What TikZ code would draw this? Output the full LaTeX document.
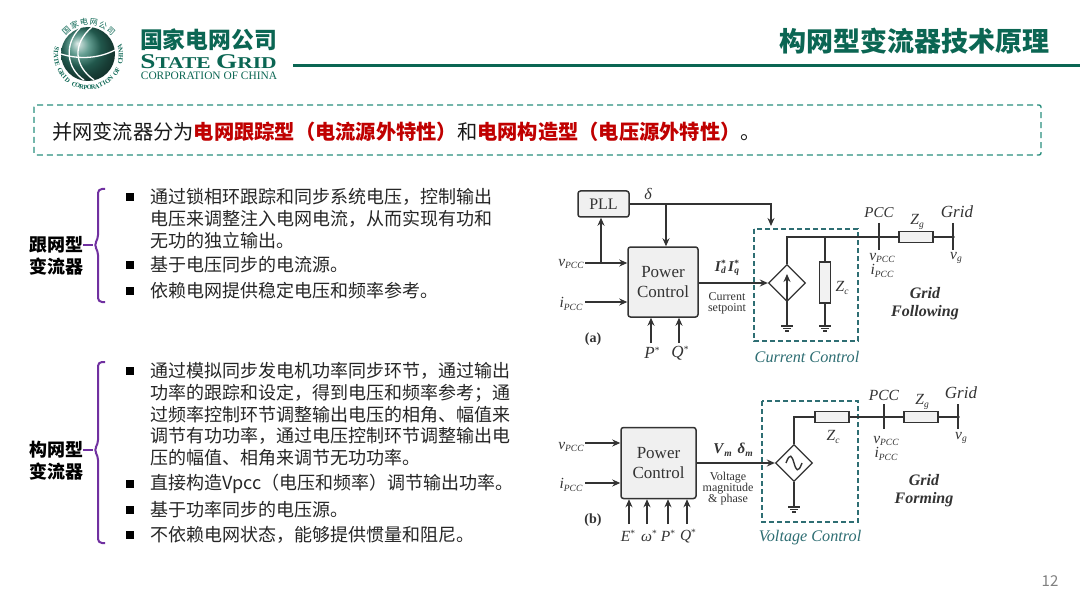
\documentclass[tikz,border=0pt]{standalone}
\usepackage{fontspec}
\usepackage{graphicx}
\setmainfont{Noto Sans CJK SC}
\newfontfamily\tms{Liberation Serif}
\usetikzlibrary{arrows.meta,shapes.geometric,calc}
\definecolor{sgteal}{HTML}{0B6653}
\definecolor{dashteal}{HTML}{2B8F7E}
\definecolor{ctlteal}{HTML}{2E6E73}
\definecolor{sgred}{HTML}{C00000}
\definecolor{brace}{HTML}{7030A0}
\definecolor{ink}{HTML}{333333}
\newcommand{\fs}[1]{\fontsize{#1}{#1}\selectfont}
\newcommand{\subt}[2]{\textit{#1}\raisebox{-2.5pt}{\fontsize{9.5}{9.5}\selectfont\textit{#2}}}
\newcommand{\stard}[1]{\textit{#1}\raisebox{5pt}{\fontsize{9.5}{9.5}\selectfont *}}
\newcommand{\subsup}[2]{\textit{#1}\rlap{\raisebox{5pt}{\fontsize{9.5}{9.5}\selectfont *}}\raisebox{-2.5pt}{\fontsize{9.5}{9.5}\selectfont\textit{#2}}}
\tikzset{
  x=1pt,y=-1pt,
  line/.style={anchor=west,inner sep=0pt,font=\fs{18},text=black!85},
  sq/.style={fill=black,minimum size=8pt,inner sep=0pt,draw=none},
  lab/.style={anchor=center,inner sep=0pt,font=\bfseries\fs{18},align=center},
  brc/.style={draw=brace,line width=2pt,rounded corners=4pt},
  dia/.style={inner sep=0pt,font=\tms\fs{13},text=ink},
  bigl/.style={dia,font=\tms\itshape\fs{17}},
  midl/.style={dia,font=\tms\fs{15.5}},
  smal/.style={dia,font=\tms\fs{12},align=center},
  pwr/.style={draw=ink,line width=1.5pt,fill=black!6,rounded corners=2.5pt,inner sep=0pt,font=\tms\fs{17},text=ink,align=center},
  imp/.style={draw=ink,line width=1.3pt,fill=black!5,inner sep=0pt},
  src/.style={diamond,aspect=1,draw=ink,line width=1.3pt,fill=white,inner sep=0pt,minimum width=37pt,minimum height=37pt},
  wire/.style={draw=ink,line width=1.3pt},
  arr/.style={wire,-{Stealth[length=8pt,width=7pt]}},
  ctl/.style={draw=ctlteal,line width=1.2pt,dash pattern=on 5pt off 3pt},
  gf/.style={dia,font=\tms\bfseries\itshape\fs{16},align=center},
  cc/.style={dia,font=\tms\itshape\fs{16.2},text=ctlteal},
}
\newcommand{\gnd}[1]{%
  \draw[ink,line width=1.2pt] ($(#1)+(-6,0)$)--($(#1)+(6,0)$);
  \draw[ink,line width=1.2pt] ($(#1)+(-4,2.5)$)--($(#1)+(4,2.5)$);
  \draw[ink,line width=1.2pt] ($(#1)+(-2,5)$)--($(#1)+(2,5)$);}
\begin{document}
\begin{tikzpicture}
\useasboundingbox (0,0) rectangle (1080,607);
\fill[white] (0,0) rectangle (1080,607);

% logo
\shade[ball color=sgteal!85!white] (88,54) circle (27);
\draw[white,line width=1.3pt] (80,28) .. controls (64,44) and (66,68) .. (84,80);
\draw[white,line width=1.3pt] (92,27) .. controls (72,44) and (74,66) .. (94,80);
\draw[white,line width=1.3pt] (61,54) .. controls (80,60) and (100,58) .. (115,50);
\foreach \ch [count=\i from 0] in {国,家,电,网,公,司}
  \node[inner sep=0,rotate={132-\i*17-90},text=sgteal,font=\fs{8}] at ({88.5+33*cos(132-\i*17)},{55-33*sin(132-\i*17)}) {\ch};
\foreach \ch [count=\i from 0] in {S,T,A,T,E, ,G,R,I,D, ,C,O,R,P,O,R,A,T,I,O,N, ,O,F, ,C,H,I,N,A}
  \node[inner sep=0,rotate={168+\i*6.9+90},text=sgteal,font=\tms\bfseries\fs{6.5}] at ({88.5+32.5*cos(168+\i*6.9)},{55-32.5*sin(168+\i*6.9)}) {\ch};
\node[inner sep=0,anchor=center,text=sgteal,font=\bfseries\fs{22.8}] (cn) at (208.5,40) {国家电网公司};
\node[inner sep=0,anchor=center,text=sgteal,font=\tms\bfseries] (en) at (208.5,61.5) {\scalebox{1.3}[1]{\fs{21}S\fs{16.5}TATE \fs{21}G\fs{16.5}RID}};
\node[inner sep=0,anchor=center,text=sgteal,font=\tms\fs{11.4}] (corp) at (209,76) {CORPORATION OF CHINA};

% title
\node[inner sep=0,anchor=east,text=sgteal,font=\bfseries\fs{27}] (title) at (1050,41) {构网型变流器技术原理};
\coordinate (ruleL) at (293,66);
\coordinate (ruleR) at (1080,66);
\draw[sgteal,line width=3pt] (ruleL)--(ruleR);

% summary box
\draw[dashteal,line width=1.4pt,dash pattern=on 6pt off 4pt,rounded corners=2pt] (34,105) rectangle (1041,155);
\node[inner sep=0,anchor=west,font=\fs{20.25},text=black!90] (sum) at (52,132) {并网变流器分为{\bfseries\color{sgred}电网跟踪型（电流源外特性）}和{\bfseries\color{sgred}电网构造型（电压源外特性）}。};

% left labels and braces
\node[lab] (gfl) at (56,255.5) {跟网型\\[4pt]变流器};
\node[lab] (gfm) at (56,461) {构网型\\[4pt]变流器};
\coordinate (b1t) at (105,189); \coordinate (b1b) at (105,302); \coordinate (b1m) at (93,245);
\coordinate (b2t) at (105,362); \coordinate (b2b) at (105,543); \coordinate (b2m) at (93,450);
\draw[brc] (b1t)-|(98,239)--(94,245)--(98,251)|-(b1b);
\draw[brc,rounded corners=0pt] (83,245)--(b1m);
\draw[brc] (b2t)-|(98,444)--(94,450)--(98,456)|-(b2b);
\draw[brc,rounded corners=0pt] (83,450)--(b2m);

% bullet texts
\foreach \y in {197,265,291,371,484,510,535}
  \node[sq] at (130,\y) {};
\node[line] at (150,197) {通过锁相环跟踪和同步系统电压，控制输出};
\node[line] at (150,219) {电压来调整注入电网电流，从而实现有功和};
\node[line] at (150,241) {无功的独立输出。};
\node[line] at (150,265) {基于电压同步的电流源。};
\node[line] at (150,291) {依赖电网提供稳定电压和频率参考。};
\node[line] at (150,371) {通过模拟同步发电机功率同步环节，通过输出};
\node[line] at (150,393) {功率的跟踪和设定，得到电压和频率参考；通};
\node[line] at (150,415) {过频率控制环节调整输出电压的相角、幅值来};
\node[line] at (150,436) {调节有功功率，通过电压控制环节调整输出电};
\node[line] at (150,458) {压的幅值、相角来调节无功功率。};
\node[line] at (150,484) {直接构造Vpcc（电压和频率）调节输出功率。};
\node[line] at (150,510) {基于功率同步的电压源。};
\node[line] at (150,535) {不依赖电网状态，能够提供惯量和阻尼。};

% ---- diagram (a)
\node[pwr,minimum width=51pt,minimum height=26pt,font=\tms\fs{16}] (pll) at (603.5,204) {PLL};
\node[pwr,minimum width=70pt,minimum height=70pt] (pca) at (663,282) {Power\\[3pt]Control};
\draw[ctl] (754,229) rectangle (858,341);
\node[src] (csa) at (787,283) {};
\node[imp,minimum width=11pt,minimum height=41pt] (zca) at (825,282.5) {};
\node[imp,minimum width=34pt,minimum height=11pt] (zga) at (916,237) {};
\coordinate (dja) at (666,204);
\coordinate (ccA) at (771,226);
\coordinate (vla) at (585,263);
\coordinate (vja) at (601,263);
\coordinate (ila) at (585,302);
\coordinate (pIa) at (651,343);
\coordinate (qIa) at (679,343);
\coordinate (topa) at (787,237);
\coordinate (jza) at (825,237);
\coordinate (pcca) at (879,237);
\coordinate (grda) at (953,237);
\coordinate (ga1) at (787,326);
\coordinate (ga2) at (825,326);
\coordinate (pat) at (879,223);\coordinate (pab) at (879,250);
\coordinate (gat) at (953,223);\coordinate (gab) at (953,250);
\draw[arr] (pll.east)-|(ccA);
\draw[arr] (dja)--(dja|-pca.north);
\draw[arr] (vla)--(vla-|pca.west);
\draw[arr] (vja)--(vja|-pll.south);
\draw[arr] (ila)--(ila-|pca.west);
\draw[arr] (pIa)--(pIa|-pca.south);
\draw[arr] (qIa)--(qIa|-pca.south);
\draw[arr] (pca.east|-csa)--(csa.west);
\draw[wire] (csa.north)--(topa)--(zga.west);
\draw[wire] (zga.east)--(grda);
\draw[wire] (jza)--(zca.north);
\draw[wire] (zca.south)--(ga2);
\draw[wire] (csa.south)--(ga1);
\draw[arr] (csa.south)--(787,274);
\draw[wire] (pat)--(pab);
\draw[wire] (gat)--(gab);
\fill[ink] (pcca) circle (1.8) (grda) circle (1.8);
\gnd{ga1}\gnd{ga2}
\node[dia,font=\tms\itshape\fs{16}] at (648,194) {δ};
\node[bigl,font=\tms\itshape\fs{15}] at (879,213) {PCC};
\node[bigl] at (957,212) {Grid};
\node[midl] at (917,222) {\subt{Z}{g}};
\node[midl] at (882,258) {\subt{v}{PCC}};
\node[midl] at (882,271) {\subt{i}{PCC}};
\node[midl] at (956,258) {\subt{v}{g}};
\node[midl] at (842,288) {\subt{Z}{c}};
\node[midl] at (571,264) {\subt{v}{PCC}};
\node[midl] at (571,304) {\subt{i}{PCC}};
\node[gf] at (925,304) {Grid\\[2pt]Following};
\node[cc] at (807,357) {Current Control};
\node[dia,font=\tms\bfseries\fs{15}] at (727,268) {\subsup{I}{d}\hspace{2pt}\subsup{I}{q}};
\node[smal] at (727,303) {Current\\[-1pt]setpoint};
\node[dia,font=\tms\bfseries\fs{14}] at (593,339) {(a)};
\node[dia,font=\tms\fs{17}] at (652,353) {\stard{P}};
\node[dia,font=\tms\fs{17}] at (680,353) {\stard{Q}};

% ---- diagram (b)
\node[pwr,minimum width=75pt,minimum height=71pt] (pcb) at (658.5,463) {Power\\[3pt]Control};
\draw[ctl] (762,401) rectangle (858,522);
\node[src] (csb) at (794,463) {};
\node[imp,minimum width=34pt,minimum height=11pt] (zcb) at (832,417) {};
\node[imp,minimum width=34pt,minimum height=11pt] (zgb) at (921,417) {};
\coordinate (vlb) at (585,443);
\coordinate (ilb) at (585,483);
\coordinate (ib1) at (629,524);\coordinate (ib2) at (647,524);
\coordinate (ib3) at (668,524);\coordinate (ib4) at (687,524);
\coordinate (topb) at (794,417);
\coordinate (pccb) at (884,417);
\coordinate (grdb) at (958,417);
\coordinate (gb) at (794,507);
\coordinate (pbt) at (884,404);\coordinate (pbb) at (884,429);
\coordinate (gbt) at (958,404);\coordinate (gbb) at (958,429);
\draw[arr] (vlb)--(vlb-|pcb.west);
\draw[arr] (ilb)--(ilb-|pcb.west);
\draw[arr] (ib1)--(ib1|-pcb.south);
\draw[arr] (ib2)--(ib2|-pcb.south);
\draw[arr] (ib3)--(ib3|-pcb.south);
\draw[arr] (ib4)--(ib4|-pcb.south);
\draw[arr] (pcb.east)--(csb.west);
\draw[wire] (csb.north)--(topb)--(zcb.west);
\draw[wire] (zcb.east)--(zgb.west);
\draw[wire] (zgb.east)--(grdb);
\draw[wire] (csb.south)--(gb);
\draw[wire] (pbt)--(pbb);
\draw[wire] (gbt)--(gbb);
\fill[ink] (pccb) circle (1.8) (grdb) circle (1.8);
\draw[ink,line width=1.4pt] (786,463) .. controls (790,452) and (792,456) .. (794,463) .. controls (796,470) and (798,474) .. (802,463);
\gnd{gb}
\node[bigl,font=\tms\itshape\fs{15.5}] at (884,395) {PCC};
\node[bigl] at (961,393) {Grid};
\node[midl] at (922,402) {\subt{Z}{g}};
\node[midl] at (833,437) {\subt{Z}{c}};
\node[midl] at (886,441) {\subt{v}{PCC}};
\node[midl] at (886,454) {\subt{i}{PCC}};
\node[midl] at (961,438) {\subt{v}{g}};
\node[midl] at (571,447) {\subt{v}{PCC}};
\node[midl] at (571,485) {\subt{i}{PCC}};
\node[gf] at (924,491) {Grid\\[2pt]Forming};
\node[cc] at (810,538) {Voltage Control};
\node[dia,font=\tms\bfseries\fs{15}] at (733,450) {\subt{V}{m}\hspace{6pt}\subt{δ}{m}};
\node[smal] at (728,488.5) {Voltage\\[-1pt]magnitude\\[-1pt]\& phase};
\node[dia,font=\tms\bfseries\fs{14}] at (593,520) {(b)};
\node[midl] at (628,536) {\stard{E}};
\node[midl] at (649,536) {\stard{ω}};
\node[midl] at (668,536) {\stard{P}};
\node[midl] at (688,536) {\stard{Q}};

% page number
\node[inner sep=0,text=black!50,font=\fs{15}] (pg) at (1050,581) {12};
\end{tikzpicture}
\end{document}
